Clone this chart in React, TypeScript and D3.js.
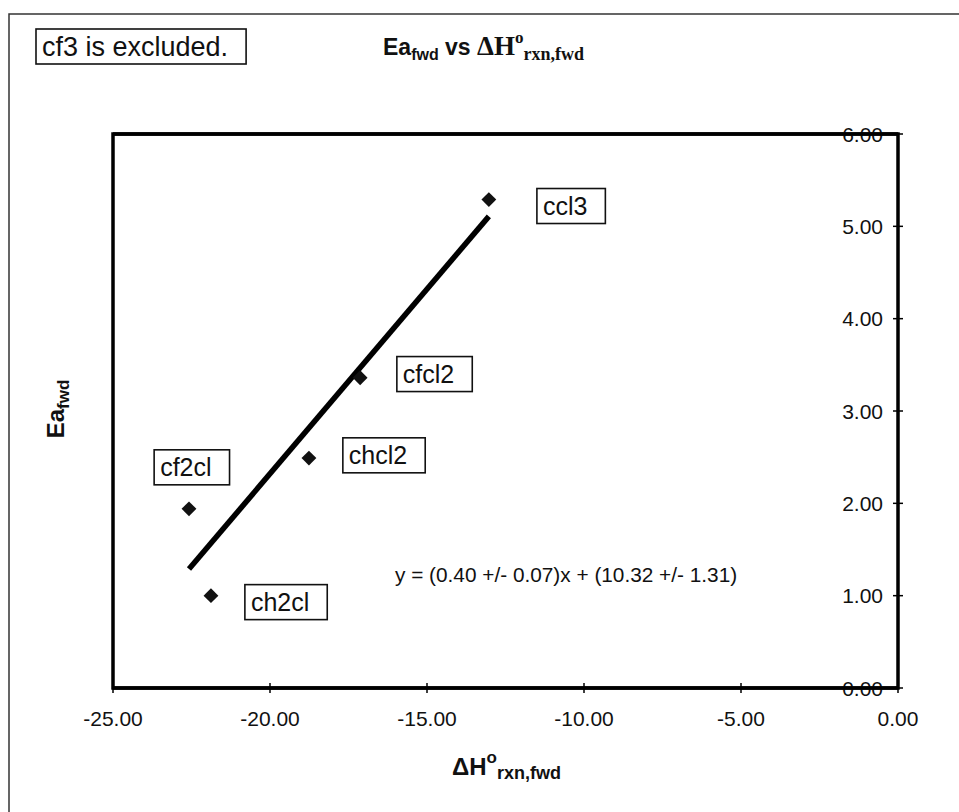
import React from "react";
import * as d3 from "d3";

// data
const compounds = ["cf2cl", "ch2cl", "chcl2", "cfcl2", "ccl3"];
const dHrxn = [-22.58, -21.88, -18.76, -17.13, -13.03];
const eaFwd = [1.94, 1.0, 2.49, 3.36, 5.29];

// label boxes: left edge / vertical centre, in data units
const labelLeft = [-23.69, -20.8, -17.68, -15.96, -11.5];
const labelMid = [2.39, 0.93, 2.52, 3.4, 5.22];

// regression reported on the chart
const fitSlope = 0.4;
const fitIntercept = 10.32;
const fitText = "y = (0.40 +/- 0.07)x + (10.32 +/- 1.31)";
const fitAt = [-16.02, 1.15];

const xTicks = [-25, -20, -15, -10, -5, 0];
const yTicks = [0, 1, 2, 3, 4, 5, 6];

const W = 959;
const H = 812;
const plot = { left: 113, right: 898, top: 134, bottom: 688 };
const SANS = "'Liberation Sans', Arial, sans-serif";
const SERIF = "'Liberation Serif', 'Times New Roman', serif";

const measure = (text: string, font: string) => {
  const ctx = document.createElement("canvas").getContext("2d");
  if (!ctx) return text.length * 12;
  ctx.font = font;
  return ctx.measureText(text).width;
};

const LabelBox = ({ x, y, text, size }: { x: number; y: number; text: string; size: number }) => {
  const w = measure(text, `${size}px Liberation Sans`) + 24;
  const h = 35;
  return (
    <g>
      <rect x={x} y={y - h / 2} width={w} height={h} fill="#fff" stroke="#111" strokeWidth={1.6} />
      <text x={x + 6} y={y + size * 0.36} fontFamily={SANS} fontSize={size} fill="#111">
        {text}
      </text>
    </g>
  );
};

export default function App() {
  const x = d3.scaleLinear().domain([-25, 0]).range([plot.left, plot.right]);
  const y = d3.scaleLinear().domain([0, 6]).range([plot.bottom, plot.top]);
  // excel style: plain hyphen minus, two decimals
  const fmt = (v: number) => v.toFixed(2);

  const xMin = d3.min(dHrxn) as number;
  const xMax = d3.max(dHrxn) as number;
  const fitLine = d3.line<number>()
    .x((d) => x(d))
    .y((d) => y(fitSlope * d + fitIntercept))([xMin, xMax]);

  const diamond = d3.symbol().type(d3.symbolSquare).size(110)();

  return (
    <svg width={W} height={H} style={{ position: "absolute", left: 0, top: 0, background: "#fff" }}>
      {/* outer frame, runs off the page right and bottom */}
      <rect x={9} y={14} width={1000} height={900} fill="none" stroke="#333" strokeWidth={1.5} />

      <LabelBox x={36} y={46.5} text="cf3 is excluded." size={27} />

      {/* title */}
      <text x={383} y={55} fill="#111" fontWeight="bold">
        <tspan fontFamily={SANS} fontSize={23}>Ea</tspan>
        <tspan fontFamily={SANS} fontSize={16} dy={5}>fwd</tspan>
        <tspan fontFamily={SANS} fontSize={23} dy={-5}> vs </tspan>
        <tspan fontFamily={SERIF} fontSize={27}>ΔH</tspan>
        <tspan fontFamily={SERIF} fontSize={17} dy={-12}>o</tspan>
        <tspan fontFamily={SERIF} fontSize={18} dy={17}>rxn,fwd</tspan>
      </text>

      {/* plot box */}
      <rect
        x={plot.left}
        y={plot.top}
        width={plot.right - plot.left}
        height={plot.bottom - plot.top}
        fill="none"
        stroke="#000"
        strokeWidth={3.5}
      />

      {/* x axis ticks + labels */}
      {xTicks.map((t) => (
        <g key={"x" + t}>
          <line x1={x(t)} x2={x(t)} y1={plot.bottom - 5} y2={plot.bottom + 5} stroke="#000" strokeWidth={1.5} />
          <text x={x(t)} y={726} textAnchor="middle" fontFamily={SANS} fontSize={21} fill="#111">
            {fmt(t)}
          </text>
        </g>
      ))}

      {/* y axis sits on the right, labels inside */}
      {yTicks.map((t) => (
        <g key={"y" + t}>
          <line x1={plot.right - 5} x2={plot.right + 5} y1={y(t)} y2={y(t)} stroke="#000" strokeWidth={1.5} />
          <text x={883} y={y(t)} dy="0.36em" textAnchor="end" fontFamily={SANS} fontSize={21} fill="#111">
            {fmt(t)}
          </text>
        </g>
      ))}
      {/* axis lines drawn over the edge labels like the original */}
      <line x1={plot.left} x2={plot.right} y1={plot.top} y2={plot.top} stroke="#000" strokeWidth={3.5} />
      <line x1={plot.left} x2={plot.right} y1={plot.bottom} y2={plot.bottom} stroke="#000" strokeWidth={3.5} />

      {/* axis titles */}
      <text
        transform={`translate(${64},${409}) rotate(-90)`}
        textAnchor="middle"
        fontFamily={SANS}
        fontWeight="bold"
        fontSize={24}
        fill="#111"
      >
        <tspan>Ea</tspan>
        <tspan fontSize={17} dy={5}>fwd</tspan>
      </text>
      <text x={452} y={775} fontFamily={SANS} fontWeight="bold" fill="#111">
        <tspan fontSize={24}>ΔH</tspan>
        <tspan fontSize={17} dy={-12}>o</tspan>
        <tspan fontSize={18} dy={16}>rxn,fwd</tspan>
      </text>

      {/* fit line */}
      <path d={fitLine || ""} fill="none" stroke="#000" strokeWidth={5.5} />

      {/* points */}
      {dHrxn.map((v, i) => (
        <path
          key={compounds[i]}
          d={diamond || ""}
          transform={`translate(${x(v)},${y(eaFwd[i])}) rotate(45)`}
          fill="#111"
        />
      ))}

      {/* point labels */}
      {compounds.map((c, i) => (
        <LabelBox key={"l" + c} x={x(labelLeft[i])} y={y(labelMid[i])} text={c} size={25} />
      ))}

      <text x={x(fitAt[0])} y={y(fitAt[1])} fontFamily={SANS} fontSize={20.8} fill="#111">
        {fitText}
      </text>
    </svg>
  );
}
